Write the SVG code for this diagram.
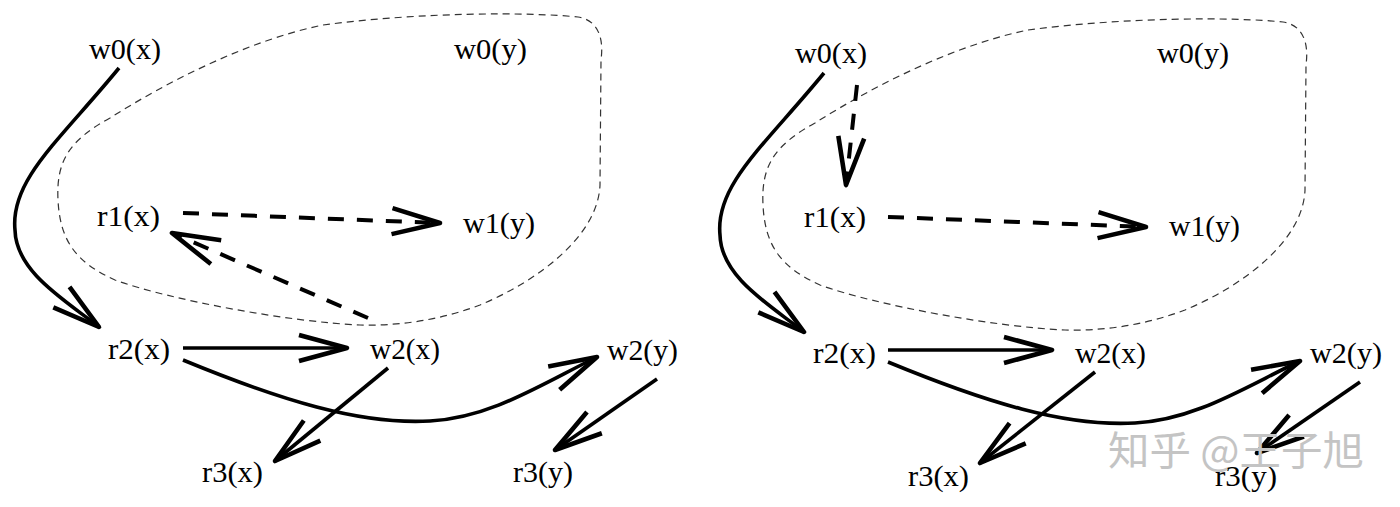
<svg xmlns="http://www.w3.org/2000/svg" width="1400" height="507" viewBox="0 0 1400 507">
<style>
.lbl{font-family:"Liberation Serif","Times New Roman",serif;font-size:30px;fill:#000}
.solid{fill:none;stroke:#000;stroke-width:3.6}
.dash{fill:none;stroke:#000;stroke-width:4;stroke-dasharray:16 13}
.blob{fill:none;stroke:#333;stroke-width:1.2;stroke-dasharray:7 5}
.wm{font-family:"Noto Sans CJK SC","Noto Sans",sans-serif;font-size:40px;fill:#c4c4c4}
</style>
<defs>
<marker id="ah" markerUnits="userSpaceOnUse" orient="auto" markerWidth="60" markerHeight="40" viewBox="-55 -20 60 40" refX="0" refY="0" overflow="visible">
<path d="M-48,-13 L0,0 L-48,13" fill="none" stroke="#000" stroke-width="4.6" stroke-linejoin="round" stroke-linecap="butt"/>
</marker>
<path id="blobPath" d="M323,25 C420,12 530,12 578,17 C598,20 604,38 601,60 L600,185 C598,235 540,280 480,305 C440,320 400,326 360,325 C290,322 170,300 115,280 C75,262 60,240 58,200 C56,160 70,140 110,118 C170,80 250,40 323,25 Z"/>
</defs>
<rect width="1400" height="507" fill="#fff"/>

<g id="regions">
<use href="#blobPath" class="blob"/>
<use href="#blobPath" class="blob" transform="translate(705,5)"/>
</g>

<g id="connectors">
<!-- left -->
<path class="solid" d="M119,68 C60,140 10,180 15,230 C16,272 65,300 99,327" marker-end="url(#ah)"/>
<path class="dash" d="M183,213 L440,223" marker-end="url(#ah)"/>
<path class="dash" d="M368,318 L172,233" marker-end="url(#ah)"/>
<path class="solid" d="M183,348 L347,348" marker-end="url(#ah)"/>
<path class="solid" d="M183,360 C280,400 360,425 430,421 C490,418 540,385 597,357" marker-end="url(#ah)"/>
<path class="solid" d="M388,368 L275,461" marker-end="url(#ah)"/>
<path class="solid" d="M657,379 L555,450" marker-end="url(#ah)"/>
<!-- right -->
<path class="solid" d="M824,73 C765,145 715,185 720,235 C721,277 770,305 804,332" marker-end="url(#ah)"/>
<path class="dash" d="M857,85 L846,185" marker-end="url(#ah)"/>
<path class="dash" d="M888,217 L1146,227" marker-end="url(#ah)"/>
<path class="solid" d="M888,350 L1052,350" marker-end="url(#ah)"/>
<path class="solid" d="M888,362 C985,402 1065,427 1135,423 C1195,420 1245,387 1300,361" marker-end="url(#ah)"/>
<path class="solid" d="M1095,372 L980,463" marker-end="url(#ah)"/>
<path class="solid" d="M1360,382 L1257,453" marker-end="url(#ah)"/>
</g>

<g id="L_w0x"><text class="lbl" x="89" y="59" textLength="72" lengthAdjust="spacingAndGlyphs">w0(x)</text></g>
<g id="L_w0y"><text class="lbl" x="454" y="59" textLength="73" lengthAdjust="spacingAndGlyphs">w0(y)</text></g>
<g id="L_r1x"><text class="lbl" x="97" y="226" textLength="63" lengthAdjust="spacingAndGlyphs">r1(x)</text></g>
<g id="L_w1y"><text class="lbl" x="463" y="233" textLength="72" lengthAdjust="spacingAndGlyphs">w1(y)</text></g>
<g id="L_r2x"><text class="lbl" x="108" y="359" textLength="62" lengthAdjust="spacingAndGlyphs">r2(x)</text></g>
<g id="L_w2x"><text class="lbl" x="370" y="359" textLength="70" lengthAdjust="spacingAndGlyphs">w2(x)</text></g>
<g id="L_w2y"><text class="lbl" x="607" y="360" textLength="71" lengthAdjust="spacingAndGlyphs">w2(y)</text></g>
<g id="L_r3x"><text class="lbl" x="202" y="482" textLength="61" lengthAdjust="spacingAndGlyphs">r3(x)</text></g>
<g id="L_r3y"><text class="lbl" x="513" y="482" textLength="60" lengthAdjust="spacingAndGlyphs">r3(y)</text></g>

<g id="R_w0x"><text class="lbl" x="795" y="63" textLength="72" lengthAdjust="spacingAndGlyphs">w0(x)</text></g>
<g id="R_w0y"><text class="lbl" x="1157" y="63" textLength="72" lengthAdjust="spacingAndGlyphs">w0(y)</text></g>
<g id="R_r1x"><text class="lbl" x="804" y="227" textLength="62" lengthAdjust="spacingAndGlyphs">r1(x)</text></g>
<g id="R_w1y"><text class="lbl" x="1169" y="236" textLength="71" lengthAdjust="spacingAndGlyphs">w1(y)</text></g>
<g id="R_r2x"><text class="lbl" x="813" y="363" textLength="63" lengthAdjust="spacingAndGlyphs">r2(x)</text></g>
<g id="R_w2x"><text class="lbl" x="1075" y="363" textLength="71" lengthAdjust="spacingAndGlyphs">w2(x)</text></g>
<g id="R_w2y"><text class="lbl" x="1310" y="363" textLength="72" lengthAdjust="spacingAndGlyphs">w2(y)</text></g>
<g id="R_r3x"><text class="lbl" x="908" y="486" textLength="61" lengthAdjust="spacingAndGlyphs">r3(x)</text></g>
<g id="R_r3y"><text class="lbl" x="1215" y="486" textLength="62" lengthAdjust="spacingAndGlyphs">r3(y)</text></g>

<g id="watermark"><text class="wm" x="1108" y="465" textLength="256" lengthAdjust="spacingAndGlyphs">知乎 @王子旭</text></g>
</svg>
